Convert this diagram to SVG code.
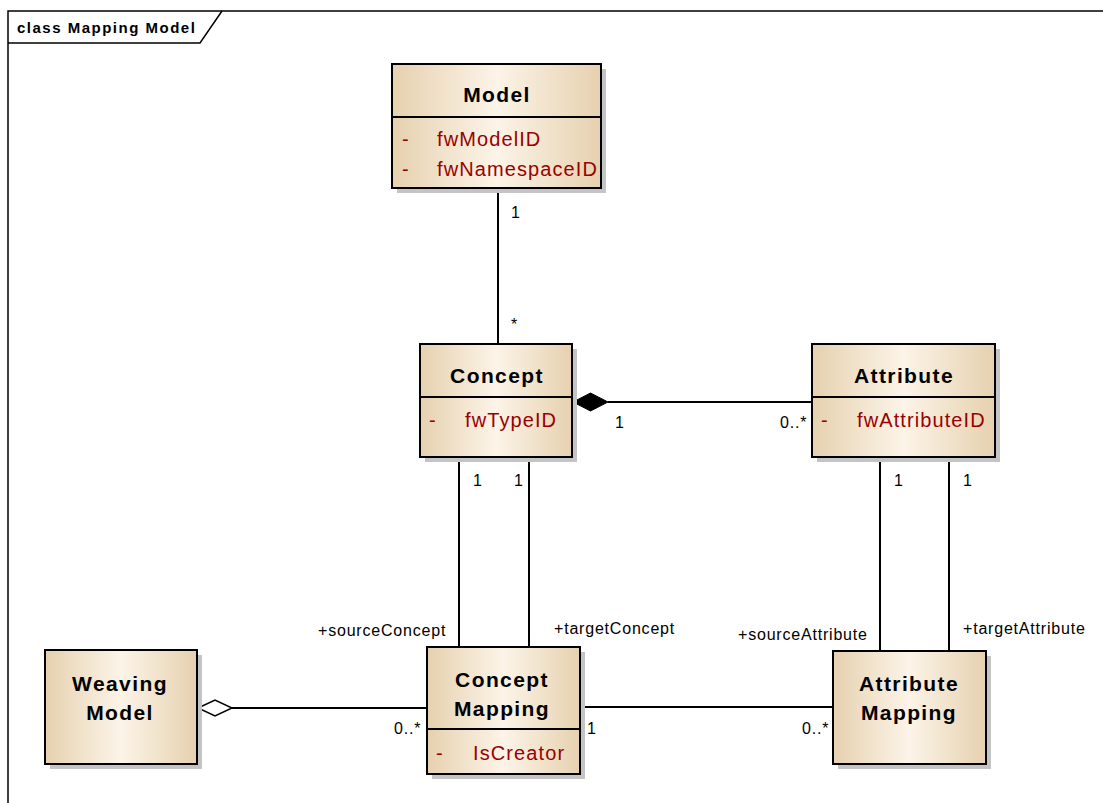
<svg xmlns="http://www.w3.org/2000/svg" width="1103" height="803" viewBox="0 0 1103 803">
  <defs>
    <linearGradient id="classFill" x1="0" y1="0" x2="1" y2="0">
      <stop offset="0" stop-color="#E6D1AF"/>
      <stop offset="0.5" stop-color="#FCF4E8"/>
      <stop offset="1" stop-color="#E6D1AF"/>
    </linearGradient>
    <style>
      .box { fill: url(#classFill); stroke: #000; stroke-width: 2; }
      .shadow { fill: #C4C4C4; }
      .div { stroke: #000; stroke-width: 2; }
      .name { font-family: "Liberation Sans", Arial, sans-serif; font-weight: bold; font-size: 21px; letter-spacing: 1.4px; text-anchor: middle; fill: #000; }
      .attr { font-family: "Liberation Sans", Arial, sans-serif; font-size: 20px; letter-spacing: 1.1px; fill: #990000; }
      .lbl { font-family: "Liberation Sans", Arial, sans-serif; font-size: 16px; letter-spacing: 0.8px; fill: #000; }
      .line { stroke: #000; stroke-width: 2; fill: none; }
      .frame { stroke: #000; stroke-width: 1.5; fill: none; }
      .title { font-family: "Liberation Sans", Arial, sans-serif; font-weight: bold; font-size: 15px; letter-spacing: 1.5px; fill: #000; }
    </style>
  </defs>

  <rect x="0" y="0" width="1103" height="803" fill="#FFFFFF"/>

  <!-- diagram frame -->
  <g id="frame">
    <path class="frame" d="M8,803 V11 H1103"/>
    <path class="frame" d="M8,43 H200 L222,11"/>
    <text class="title" x="17" y="33">class Mapping Model</text>
  </g>

  <!-- associations -->
  <g id="connectors">
    <line class="line" x1="498" y1="188" x2="498" y2="344"/>
    <line class="line" x1="608" y1="402" x2="812" y2="402"/>
    <polygon points="573,402 590.5,393 608,402 590.5,411" fill="#000" stroke="#000" stroke-width="1"/>
    <line class="line" x1="459" y1="457" x2="459" y2="647"/>
    <line class="line" x1="529" y1="457" x2="529" y2="647"/>
    <line class="line" x1="880" y1="457" x2="880" y2="651"/>
    <line class="line" x1="949" y1="457" x2="949" y2="651"/>
    <line class="line" x1="232" y1="708" x2="427" y2="708"/>
    <polygon points="198,708 215,700 232,708 215,716" fill="#FFFFFF" stroke="#000" stroke-width="1.5"/>
    <line class="line" x1="580" y1="707" x2="833" y2="707"/>

    <text class="lbl" x="511" y="218">1</text>
    <text class="lbl" x="511" y="330">*</text>
    <text class="lbl" x="615" y="428">1</text>
    <text class="lbl" x="780" y="428">0..*</text>
    <text class="lbl" x="473" y="486">1</text>
    <text class="lbl" x="514" y="486">1</text>
    <text class="lbl" x="894" y="486">1</text>
    <text class="lbl" x="963" y="486">1</text>
    <text class="lbl" x="318" y="636">+sourceConcept</text>
    <text class="lbl" x="554" y="634">+targetConcept</text>
    <text class="lbl" x="738" y="640">+sourceAttribute</text>
    <text class="lbl" x="963" y="634">+targetAttribute</text>
    <text class="lbl" x="394" y="734">0..*</text>
    <text class="lbl" x="587" y="734">1</text>
    <text class="lbl" x="802" y="734">0..*</text>
  </g>

  <g id="model">
    <rect class="shadow" x="397" y="69" width="209" height="124"/>
    <rect class="box" x="392" y="64" width="209" height="124"/>
    <line class="div" x1="392" y1="117" x2="601" y2="117"/>
    <text class="name" x="497" y="102">Model</text>
    <text class="attr" x="402" y="146">-</text>
    <text class="attr" x="437" y="146">fwModelID</text>
    <text class="attr" x="402" y="176">-</text>
    <text class="attr" x="437" y="176">fwNamespaceID</text>
  </g>

  <g id="concept">
    <rect class="shadow" x="425" y="349" width="152" height="113"/>
    <rect class="box" x="420" y="344" width="152" height="113"/>
    <line class="div" x1="420" y1="397" x2="572" y2="397"/>
    <text class="name" x="497" y="383">Concept</text>
    <text class="attr" x="429" y="427">-</text>
    <text class="attr" x="465" y="427">fwTypeID</text>
  </g>

  <g id="attribute">
    <rect class="shadow" x="817" y="349" width="183" height="113"/>
    <rect class="box" x="812" y="344" width="183" height="113"/>
    <line class="div" x1="812" y1="397" x2="995" y2="397"/>
    <text class="name" x="904" y="383">Attribute</text>
    <text class="attr" x="821" y="427">-</text>
    <text class="attr" x="857" y="427">fwAttributeID</text>
  </g>

  <g id="weaving-model">
    <rect class="shadow" x="50" y="655" width="152" height="114"/>
    <rect class="box" x="45" y="650" width="152" height="114"/>
    <text class="name" x="120" y="691">Weaving</text>
    <text class="name" x="120" y="720">Model</text>
  </g>

  <g id="concept-mapping">
    <rect class="shadow" x="432" y="652" width="153" height="127"/>
    <rect class="box" x="427" y="647" width="153" height="127"/>
    <line class="div" x1="427" y1="729" x2="580" y2="729"/>
    <text class="name" x="502" y="687">Concept</text>
    <text class="name" x="502" y="716">Mapping</text>
    <text class="attr" x="436" y="760">-</text>
    <text class="attr" x="473" y="760">IsCreator</text>
  </g>

  <g id="attribute-mapping">
    <rect class="shadow" x="838" y="656" width="153" height="113"/>
    <rect class="box" x="833" y="651" width="153" height="113"/>
    <text class="name" x="909" y="691">Attribute</text>
    <text class="name" x="909" y="720">Mapping</text>
  </g>
</svg>
